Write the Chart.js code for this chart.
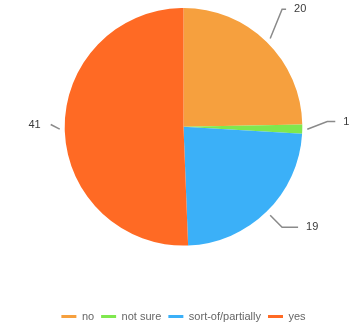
<!DOCTYPE html>
<html>
<head>
<meta charset="utf-8">
<script src="https://cdn.jsdelivr.net/npm/chart.js@4.4.0/dist/chart.umd.min.js"></script>
<style>
  html, body { margin: 0; padding: 0; background: #fff; }
  #wrap { width: 353px; height: 328px; }
</style>
</head>
<body>
<div id="wrap"><canvas id="myChart" width="353" height="328"></canvas></div>
<script>
// Chart data
const categories = ['no', 'not sure', 'sort-of/partially', 'yes'];
const answers = [20, 1, 19, 41];
const sliceColors = ['#f6a03e', '#7fe84e', '#3bb0f8', '#ff6a24'];

// Lighten / darken a hex colour
const shade = (hex, amt) => {
    const n = parseInt(hex.slice(1), 16);
    const f = (c) => Math.max(0, Math.min(255, Math.round(c + amt)));
    const r = f(n >> 16), g = f((n >> 8) & 255), b = f(n & 255);
    return `rgb(${r},${g},${b})`;
};

// Soft radial shading on each slice
const sliceFill = (context) => {
    const chart = context.chart;
    const base = sliceColors[context.dataIndex];
    const arc = chart.getDatasetMeta(0).data[context.dataIndex];
    if (!arc || !arc.outerRadius) return base;
    const g = chart.ctx.createRadialGradient(arc.x, arc.y, 0, arc.x, arc.y, arc.outerRadius);
    g.addColorStop(0, base);
    g.addColorStop(0.75, shade(base, 12));
    g.addColorStop(0.93, shade(base, 4));
    g.addColorStop(1, shade(base, -14));
    return g;
};

// Draws value labels with leader lines outside the pie
const leaderLabels = {
    id: 'leaderLabels',
    afterDatasetsDraw(chart, args, opts) {
        const ctx = chart.ctx;
        const meta = chart.getDatasetMeta(0);
        ctx.save();
        ctx.font = '11px "Liberation Sans", Arial, sans-serif';
        ctx.fillStyle = '#3a3a3a';
        ctx.strokeStyle = '#8a8a8a';
        ctx.lineWidth = 1.5;
        ctx.textBaseline = 'middle';
        meta.data.forEach((arc, i) => {
            const t = opts.tweaks[i] || {};
            const mid = (arc.startAngle + arc.endAngle) / 2;
            const r = arc.outerRadius;
            const cos = Math.cos(mid), sin = Math.sin(mid);
            const right = cos >= 0;
            const dir = right ? 1 : -1;
            const sx = arc.x + (r + 5) * cos, sy = arc.y + (r + 5) * sin;
            const lx = arc.x + (r + 22) * cos + (t.dx || 0);
            const ly = arc.y + (r + 22) * sin + (t.dy || 0);
            const ex = lx + dir * (t.seg !== undefined ? t.seg : 8);
            ctx.beginPath();
            ctx.moveTo(sx, sy);
            ctx.lineTo(lx, ly);
            ctx.lineTo(ex, ly);
            ctx.stroke();
            ctx.textAlign = right ? 'left' : 'right';
            ctx.fillText(String(answers[i]), ex + dir * (t.gap || 8), ly);
        });
        ctx.restore();
    }
};

// Nudges the legend a little lower
const legendShift = {
    id: 'legendShift',
    afterLayout(chart) {
        chart.legend.top += 6;
        chart.legend.bottom += 6;
    }
};

const ctx = document.getElementById('myChart');

const pieChart = new Chart(ctx, {
    type: 'pie',
    data: {
        labels: categories,
        datasets: [{
            data: answers,
            backgroundColor: sliceFill,
            borderWidth: 0,
        }]
    },
    options: {
        responsive: false,
        animation: false,
        layout: { padding: { top: 8, left: 20, right: 6, bottom: 2 } },
        plugins: {
            tooltip: { enabled: false },
            leaderLabels: {
                tweaks: [
                    { dy: -17, seg: 4 },
                    { dx: 3, dy: -8, seg: 8 },
                    { seg: 16 },
                    { dx: 8, dy: -5, seg: 0, gap: 10 },
                ]
            },
            legend: {
                position: 'bottom',
                title: { display: true, text: ' ', padding: { top: 50, bottom: 0 }, font: { size: 2 } },
                labels: {
                    usePointStyle: true,
                    pointStyle: 'line',
                    pointStyleWidth: 15,
                    boxHeight: 11,
                    padding: 7,
                    color: '#333',
                    font: { family: '"Liberation Sans", Arial, sans-serif', size: 11 },
                    generateLabels: (chart) => categories.map((name, i) => ({
                        text: name,
                        fillStyle: sliceColors[i],
                        strokeStyle: sliceColors[i],
                        lineWidth: 3,
                        pointStyle: 'line',
                        hidden: false,
                        index: i,
                    })),
                }
            }
        }
    },
    plugins: [leaderLabels, legendShift]
});
</script>
</body>
</html>
